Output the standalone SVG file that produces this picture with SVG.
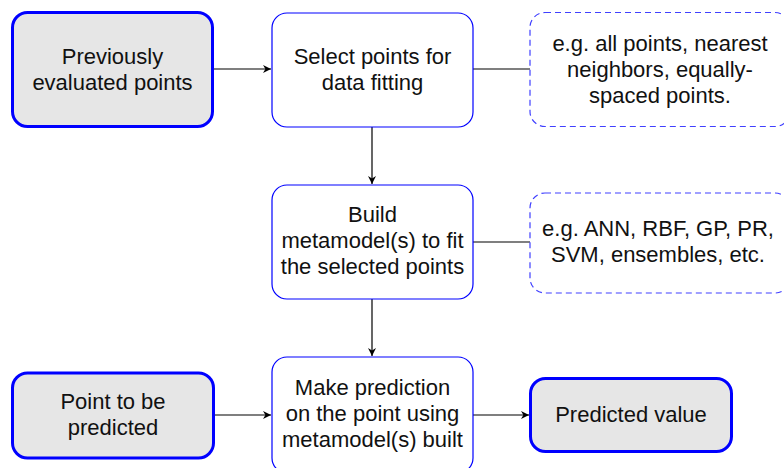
<svg xmlns="http://www.w3.org/2000/svg" width="784" height="468" viewBox="0 0 784 468">
  <style>
    .io { fill: #e6e6e6; stroke: #0000ff; stroke-width: 3; }
    .step { fill: #ffffff; stroke: #0000ff; stroke-width: 1.2; }
    .note { fill: #ffffff; stroke: #4040ff; stroke-width: 1.2; stroke-dasharray: 6 4; }
    .lbl { font-family: "Liberation Sans", Arial, sans-serif; font-size: 22px; fill: #111111; text-anchor: middle; }
    .edge { stroke: #000000; stroke-width: 1.2; fill: none; }
  </style>
  <defs>
    <marker id="arrow" viewBox="0 0 10 10" refX="10" refY="5" markerWidth="8" markerHeight="8" markerUnits="userSpaceOnUse" orient="auto">
      <path d="M0,0 L10,5 L0,10 L3,5 Z" fill="#000000"/>
    </marker>
  </defs>
  <rect width="784" height="468" fill="#ffffff"/>

  <g id="connectors">
    <line class="edge" x1="214" y1="69" x2="271" y2="69" marker-end="url(#arrow)"/>
    <line class="edge" x1="473" y1="69" x2="530" y2="69"/>
    <line class="edge" x1="372" y1="127" x2="372" y2="184" marker-end="url(#arrow)"/>
    <line class="edge" x1="473" y1="242" x2="530" y2="242"/>
    <line class="edge" x1="372" y1="299" x2="372" y2="356" marker-end="url(#arrow)"/>
    <line class="edge" x1="215" y1="415" x2="271" y2="415" marker-end="url(#arrow)"/>
    <line class="edge" x1="473" y1="415" x2="529" y2="415" marker-end="url(#arrow)"/>
  </g>

  <g id="previous-points">
    <rect class="io" x="12.5" y="12.5" width="200" height="114" rx="15"/>
    <text class="lbl" x="112.5" y="64">Previously</text>
    <text class="lbl" x="112.5" y="90">evaluated points</text>
  </g>

  <g id="select-points">
    <rect class="step" x="272" y="13" width="201" height="114" rx="15"/>
    <text class="lbl" x="372.5" y="64">Select points for</text>
    <text class="lbl" x="372.5" y="90">data fitting</text>
  </g>

  <g id="selection-examples">
    <rect class="note" x="530" y="12.5" width="260" height="114" rx="15"/>
    <text class="lbl" x="660" y="51">e.g. all points, nearest</text>
    <text class="lbl" x="660" y="77">neighbors, equally-</text>
    <text class="lbl" x="660" y="103">spaced points.</text>
  </g>

  <g id="build-metamodel">
    <rect class="step" x="272" y="185" width="201" height="114" rx="15"/>
    <text class="lbl" x="372.5" y="222">Build</text>
    <text class="lbl" x="372.5" y="248">metamodel(s) to fit</text>
    <text class="lbl" x="372.5" y="274">the selected points</text>
  </g>

  <g id="metamodel-examples">
    <rect class="note" x="530" y="193" width="260" height="100" rx="15"/>
    <text class="lbl" x="658" y="236">e.g. ANN, RBF, GP, PR,</text>
    <text class="lbl" x="658" y="262">SVM, ensembles, etc.</text>
  </g>

  <g id="point-to-predict">
    <rect class="io" x="12.5" y="373" width="201" height="85" rx="15"/>
    <text class="lbl" x="113" y="409">Point to be</text>
    <text class="lbl" x="113" y="435">predicted</text>
  </g>

  <g id="make-prediction">
    <rect class="step" x="272" y="357" width="201" height="116" rx="15"/>
    <text class="lbl" x="372.5" y="395">Make prediction</text>
    <text class="lbl" x="372.5" y="421">on the point using</text>
    <text class="lbl" x="372.5" y="447">metamodel(s) built</text>
  </g>

  <g id="predicted-value">
    <rect class="io" x="530.5" y="378.5" width="201" height="73" rx="15"/>
    <text class="lbl" x="631" y="422">Predicted value</text>
  </g>
</svg>
